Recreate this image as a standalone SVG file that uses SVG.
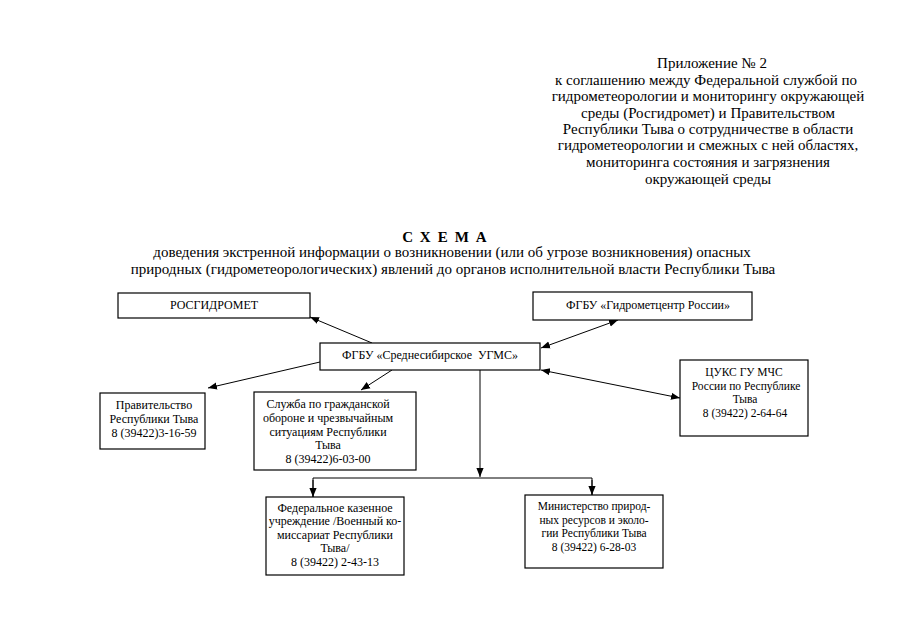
<svg xmlns="http://www.w3.org/2000/svg" width="905" height="640" viewBox="0 0 905 640">
<style>
text{font-family:"Liberation Serif","Times New Roman",serif;fill:#000}
.h{font-size:15px;text-anchor:middle}
.t{font-size:15px;text-anchor:middle}
.n{font-size:12px;text-anchor:middle}
.s{font-size:11.5px;text-anchor:middle}
.b{fill:#fff;stroke:#000;stroke-width:1.2}
.c{stroke:#000;stroke-width:1;fill:none}
</style>
<defs>
<marker id="ah" viewBox="0 0 10 10" refX="10" refY="5" markerWidth="9" markerHeight="9" markerUnits="userSpaceOnUse" orient="auto-start-reverse">
<path d="M0,1 L10,5 L0,9 Z" fill="#000"/>
</marker>
</defs>
<rect width="905" height="640" fill="#fff"/>
<g id="header">
<text class="h" x="712" y="68">Приложение № 2</text>
<text class="h" x="706" y="85">к соглашению между Федеральной службой по</text>
<text class="h" x="708" y="101">гидрометеорологии и мониторингу окружающей</text>
<text class="h" x="708" y="118">среды (Росгидромет) и Правительством</text>
<text class="h" x="708" y="134">Республики Тыва о сотрудничестве в области</text>
<text class="h" x="708" y="150">гидрометеорологии и смежных с ней областях,</text>
<text class="h" x="708" y="167">мониторинга состояния и загрязнения</text>
<text class="h" x="708" y="184">окружающей среды</text>
</g>
<g id="title">
<text class="t" x="448" y="242" style="font-weight:bold;letter-spacing:7px">СХЕМА</text>
<text class="t" x="452" y="257">доведения экстренной информации о возникновении (или об угрозе возникновения) опасных</text>
<text class="t" x="453" y="274">природных (гидрометеорологических) явлений до органов исполнительной власти Республики Тыва</text>
</g>
<g id="connectors">
<line class="c" x1="372" y1="343" x2="310" y2="317" marker-end="url(#ah)"/>
<line class="c" x1="541" y1="348" x2="618" y2="320" marker-start="url(#ah)" marker-end="url(#ah)"/>
<line class="c" x1="541" y1="370" x2="680" y2="398" marker-start="url(#ah)" marker-end="url(#ah)"/>
<line class="c" x1="320" y1="362" x2="208" y2="388" marker-end="url(#ah)"/>
<line class="c" x1="392" y1="370" x2="361" y2="390" marker-end="url(#ah)"/>
<line class="c" x1="480" y1="370" x2="480" y2="477" marker-end="url(#ah)"/>
<polyline class="c" points="313,497 313,478 592,478 592,495"/>
<line class="c" x1="313" y1="480" x2="313" y2="497" marker-end="url(#ah)"/>
<line class="c" x1="592" y1="480" x2="592" y2="495" marker-end="url(#ah)"/>
</g>
<g id="rosgidromet">
<rect class="b" x="118" y="293" width="192" height="25"/>
<text class="n" x="214" y="309">РОСГИДРОМЕТ</text>
</g>
<g id="gidromettsentr">
<rect class="b" x="533" y="292" width="219" height="28"/>
<text class="n" x="648" y="309">ФГБУ «Гидрометцентр России»</text>
</g>
<g id="ugms">
<rect class="b" x="320" y="343" width="220" height="27"/>
<text class="n" x="430" y="359" xml:space="preserve">ФГБУ «Среднесибирское  УГМС»</text>
</g>
<g id="pravitelstvo">
<rect class="b" x="100" y="393" width="105" height="56"/>
<text class="n" x="154" y="409">Правительство</text>
<text class="n" x="154" y="423">Республики Тыва</text>
<text class="n" x="154" y="437">8 (39422)3-16-59</text>
</g>
<g id="sluzhba">
<rect class="b" x="254" y="392" width="162" height="78"/>
<text class="n" x="328" y="408">Служба по гражданской</text>
<text class="n" x="328" y="422">обороне и чрезвычайным</text>
<text class="n" x="328" y="435.5">ситуациям Республики</text>
<text class="n" x="328" y="449">Тыва</text>
<text class="n" x="328" y="462.5">8 (39422)6-03-00</text>
</g>
<g id="tsuks">
<rect class="b" x="680" y="360" width="128" height="76"/>
<text class="s" x="744" y="376">ЦУКС ГУ МЧС</text>
<text class="s" x="746" y="389.5">России по Республике</text>
<text class="s" x="745" y="403">Тыва</text>
<text class="s" x="745" y="416.5">8 (39422) 2-64-64</text>
</g>
<g id="voenkomat">
<rect class="b" x="266" y="497" width="138" height="78"/>
<text class="n" x="335" y="511.5">Федеральное казенное</text>
<text class="n" x="335" y="525">учреждение /Военный ко-</text>
<text class="n" x="335" y="538.5">миссариат Республики</text>
<text class="n" x="335" y="552">Тыва/</text>
<text class="n" x="335" y="565.5">8 (39422) 2-43-13</text>
</g>
<g id="minprirody">
<rect class="b" x="525" y="495" width="138" height="73"/>
<text class="s" x="594" y="510">Министерство природ-</text>
<text class="s" x="594" y="523.5">ных ресурсов и эколо-</text>
<text class="s" x="594" y="537">гии Республики Тыва</text>
<text class="s" x="594" y="550.5">8 (39422) 6-28-03</text>
</g>
</svg>
